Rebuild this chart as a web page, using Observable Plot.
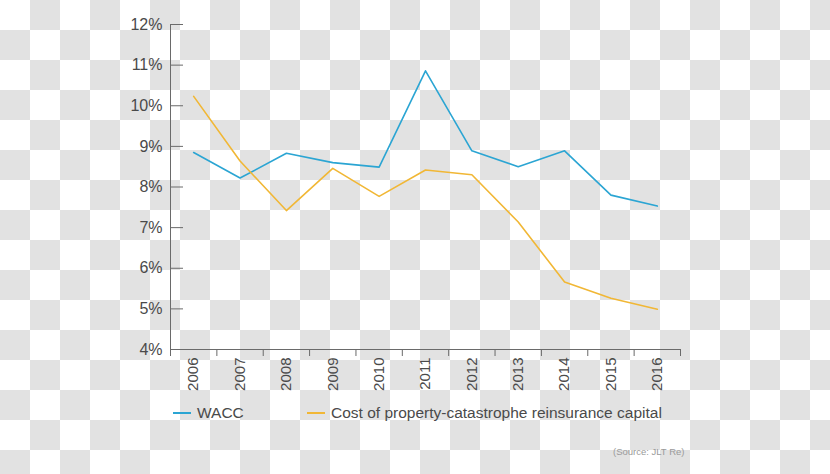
<!DOCTYPE html>
<html>
<head>
<meta charset="utf-8">
<script src="https://cdn.jsdelivr.net/npm/d3@7"></script>
<script src="https://cdn.jsdelivr.net/npm/@observablehq/plot@0.6"></script>
<style>
  html, body { margin: 0; padding: 0; }
  body {
    width: 830px; height: 474px; overflow: hidden; position: relative;
    background: repeating-conic-gradient(#e2e2e2 0 25%, #ffffff 0 50%) 0 0 / 60px 60px;
    font-family: "Liberation Sans", Arial, sans-serif;
    color: #4a4a4a;
  }
  #chart svg { display: block; background: transparent; }
  .legend { position: absolute; top: 402px; left: 0; height: 22px; width: 830px; font-size: 15.5px; }
  .item { position: absolute; top: 0; display: flex; align-items: center; height: 22px; white-space: nowrap; }
  .sw { display: inline-block; width: 18px; height: 1.5px; margin-right: 6px; }
  .source { position: absolute; top: 446px; left: 613px; font-size: 9.5px; color: #9a9a9a; white-space: nowrap; }
</style>
</head>
<body>
<div id="chart"></div>
<div class="legend" id="legend"></div>
<div class="source">(Source: JLT Re)</div>
<script>
const years = [2006, 2007, 2008, 2009, 2010, 2011, 2012, 2013, 2014, 2015, 2016];
const wacc = [8.85, 8.22, 8.83, 8.60, 8.49, 10.86, 8.89, 8.50, 8.89, 7.80, 7.53];
const catCost = [10.23, 8.64, 7.42, 8.46, 7.77, 8.42, 8.30, 7.14, 5.66, 5.26, 4.99];
const yTicks = [4, 5, 6, 7, 8, 9, 10, 11, 12];
const seriesNames = ["WACC", "Cost of property-catastrophe reinsurance capital"];
const seriesColors = ["#2ba5d3", "#f1b735"];
const legendLeft = [173, 307];

const width = 830, height = 395;
const marginLeft = 170, marginRight = 150, marginTop = 24, marginBottom = 46;
const frameW = width - marginLeft - marginRight;
const axisColor = "#6a6a6a";
const bandEdges = d3.range(years[0] - 0.5, years[years.length - 1] + 1, 1);

const rows = [];
years.forEach((yr, i) => {
  rows.push({year: yr, value: wacc[i], series: seriesNames[0]});
  rows.push({year: yr, value: catCost[i], series: seriesNames[1]});
});

const plot = Plot.plot({
  width, height, marginLeft, marginRight, marginTop, marginBottom,
  style: {background: "transparent", fontFamily: "Liberation Sans, Arial, sans-serif", fontSize: "15px", color: "#4a4a4a"},
  x: {type: "linear", domain: [years[0] - 0.5, years[years.length - 1] + 0.5]},
  y: {domain: [yTicks[0], yTicks[yTicks.length - 1]]},
  color: {domain: seriesNames, range: seriesColors},
  marks: [
    Plot.axisY({ticks: yTicks, tickFormat: d => d + "%", tickSize: 0, tickPadding: 8, label: null, fill: "#4a4a4a", fontSize: 16}),
    Plot.tickY(yTicks, {y: d => d, stroke: axisColor, insetRight: frameW - 13}),
    Plot.axisX({ticks: bandEdges, tickFormat: () => "", tickSize: 7, stroke: axisColor, label: null}),
    Plot.axisX({ticks: years, tickFormat: d => String(d), tickSize: 0, tickPadding: 8, tickRotate: -90, label: null, fill: "#4a4a4a", fontSize: 15}),
    Plot.ruleX([years[0] - 0.5], {stroke: axisColor}),
    Plot.ruleY([yTicks[0]], {stroke: axisColor}),
    Plot.line(rows, {x: "year", y: "value", z: "series", stroke: "series", strokeWidth: 1.6})
  ]
});
document.getElementById("chart").appendChild(plot);

const legend = document.getElementById("legend");
seriesNames.forEach((name, i) => {
  const item = document.createElement("div");
  item.className = "item";
  item.style.left = legendLeft[i] + "px";
  const sw = document.createElement("span");
  sw.className = "sw";
  sw.style.background = seriesColors[i];
  const t = document.createElement("span");
  t.textContent = name;
  item.appendChild(sw);
  item.appendChild(t);
  legend.appendChild(item);
});
</script>
</body>
</html>
